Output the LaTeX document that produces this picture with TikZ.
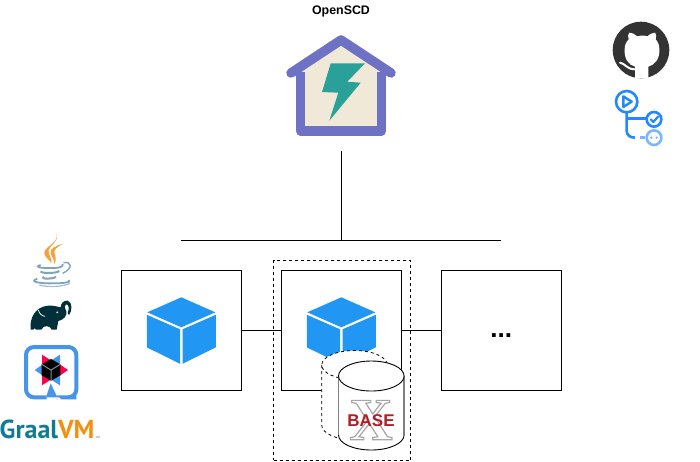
\documentclass[tikz,border=0pt]{standalone}
\usepackage{xcolor}
\usepackage{fontspec}
\setmainfont{Liberation Sans}
\newfontfamily\graalfont{PT Sans}
\newfontfamily\basexfont{Liberation Serif}
\usetikzlibrary{positioning}
\definecolor{housePurple}{HTML}{6E72C4}
\definecolor{houseCream}{HTML}{F0E9D7}
\definecolor{boltTeal}{HTML}{2AA198}
\definecolor{cubeBlue}{HTML}{2196F3}
\definecolor{actBlue}{HTML}{2188FF}
\definecolor{actLight}{HTML}{79B8FF}
\definecolor{javaBlue}{HTML}{7FA3BD}
\definecolor{javaOrange}{HTML}{F5A13C}
\definecolor{gradleDark}{HTML}{02303A}
\definecolor{quarkBlue}{HTML}{4695EB}
\definecolor{quarkRed}{HTML}{FF004A}
\definecolor{graalTeal}{HTML}{0F7C93}
\definecolor{graalOrange}{HTML}{F29111}
\definecolor{basexRed}{HTML}{B01E26}
\tikzset{
	svcbox/.style={draw, line width=1pt, minimum size=120pt, inner sep=0pt, outer sep=0pt, fill=white},
	wire/.style={line width=1pt},
	cube/.pic={
		\fill[cubeBlue] (0,-33) -- (34,-18) -- (0,-3) -- (-34,-18) -- cycle;
		\fill[cubeBlue] (-34.5,-15.5) -- (-1.2,-1) -- (-1.2,33.5) -- (-34.5,17) -- cycle;
		\fill[cubeBlue] (34.5,-15.5) -- (1.2,-1) -- (1.2,33.5) -- (34.5,17) -- cycle;
	}
}
\begin{document}
\begin{tikzpicture}[x=1pt, y=-1pt]
	\useasboundingbox (0,0) rectangle (700,461);
	% services
	\node[svcbox] (svcA) at (181.3,330.3) {};
	\node[svcbox, right=40pt of svcA] (svcB) {};
	\node[svcbox, right=40pt of svcB] (svcC) {};
	\node[font=\bfseries\fontsize{26}{26}\selectfont] (dots) at (501.3,335.5) {...};
	\pic at (svcA.center) {cube};
	\pic at (svcB.center) {cube};
	\draw[wire] (svcA) -- (svcB);
	\draw[wire] (svcB) -- (svcC);
	% bus
	\coordinate[above=30pt of svcA.north] (busL);
	\coordinate[above=30pt of svcC.north] (busR);
	\coordinate (busM) at (341.3,240.3);
	\coordinate (houseFoot) at (341.3,151);
	\draw[wire] (busL) -- (busR);
	\draw[wire] (houseFoot) -- (busM);
	% OpenSCD
	\node[font=\bfseries\fontsize{12.4}{12.4}\selectfont] (title) at (341,11.3) {OpenSCD};
	\fill[houseCream] (300,131) -- (300,72) -- (341,42) -- (382,72) -- (382,131) -- cycle;
	\draw[housePurple, line width=9.5pt, line cap=round, line join=round] (291,73) -- (341,40) -- (391,73);
	\draw[housePurple, line width=9.5pt, line join=round] (300.5,72) -- (300.5,131) -- (381.5,131) -- (381.5,72);
	\fill[boltTeal] (330.7,63.3) -- (365,63.3) -- (347.3,81.7) -- (360.7,82.7) -- (329.3,120.7) -- (338.3,92.7) -- (322,92) -- cycle;
	% database
	\node[draw, dashed, line width=1pt, minimum width=137.3pt, minimum height=200pt, inner sep=0pt, outer sep=0pt] (dbframe) at (342.3,360.3) {};
	\fill[white] (321.7,365) -- (321.7,425) arc[start angle=180, end angle=0, x radius=32.8, y radius=15] -- (387.3,365) arc[start angle=0, end angle=-180, x radius=32.8, y radius=14.5] -- cycle;
	\draw[dashed, line width=0.8pt] (354.5,365) ellipse[x radius=32.8, y radius=14.5];
	\draw[dashed, line width=0.8pt] (321.7,365) -- (321.7,425) arc[start angle=180, end angle=90, x radius=32.8, y radius=15];
	\fill[white] (338.5,376) -- (338.5,435) arc[start angle=180, end angle=0, x radius=32.8, y radius=15] -- (404,376) -- cycle;
	\draw[gray, line width=1.4pt] (338.5,376) -- (338.5,435);
	\draw[gray, line width=1.4pt] (404,376) -- (404,435);
	\draw[line width=0.9pt] (338.5,435) arc[start angle=180, end angle=0, x radius=32.8, y radius=15];
	\draw[line width=0.9pt, fill=white] (371.3,376) ellipse[x radius=32.8, y radius=15];
	\node[inner sep=0pt, font=\basexfont\bfseries\fontsize{60}{60}\selectfont] (basexX) at (371,420) {\special{pdf:code q 1 Tr 0.65 G 1.2 w}X\special{pdf:code Q}};
	\node[inner sep=0pt, text=basexRed, font=\bfseries\fontsize{17}{17}\selectfont] (basex) at (371,420.5) {BASE};
	% github
	\fill[black!80] (641,50) circle[radius=28.3];
	\begin{scope}[shift={(600,10)}, scale=1/3]
		\fill[white] (105,204) -- (105,170) .. controls (85,165) and (72,145) .. (74,118) .. controls (74,105) and (78,97) .. (86,88) .. controls (83,80) and (84,72) .. (88,68) .. controls (95,68) and (105,72) .. (112,79) .. controls (120,76) and (135,76) .. (142,79) .. controls (150,72) and (158,68) .. (165,68) .. controls (169,72) and (170,80) .. (167,88) .. controls (175,97) and (178,105) .. (178,118) .. controls (180,145) and (165,165) .. (145,170) -- (145,204) -- cycle;
		\draw[white, line width=2pt, line cap=round] (60,158) .. controls (75,160) and (80,178) .. (105,178);
	% actions
		\draw[actBlue, line width=2.6pt] (80,275) circle[radius=32];
		\draw[actBlue, line width=2.4pt, line join=round] (70,259) -- (70,291) -- (95,275) -- cycle;
		\draw[actBlue, line width=2.6pt] (80,307) -- (80,362) .. controls (80,375) and (90,383) .. (105,383);
		\draw[actBlue, line width=2.6pt] (80,325) -- (140,325);
		\draw[actBlue, line width=2.6pt] (162,328) circle[radius=22];
		\draw[actBlue, line width=2.2pt, line cap=round, line join=round] (152,328) -- (160,336) -- (174,320);
		\draw[actLight, line width=2.6pt] (120,383) -- (136,383);
		\draw[actLight, line width=2.6pt] (162,383) circle[radius=22];
		\fill[actLight] (154,383) circle[radius=4] (170,383) circle[radius=4];
	\end{scope}
	% java and gradle
	\begin{scope}[shift={(0,225)}, scale=1/3]
		\fill[javaOrange] (170,25) .. controls (178,55) and (130,65) .. (133,85) .. controls (135,98) and (150,105) .. (154,115) .. controls (158,100) and (143,90) .. (146,75) .. controls (150,60) and (178,50) .. (170,25) -- cycle;
		\fill[javaOrange] (188,57) .. controls (165,62) and (148,72) .. (152,85) .. controls (155,98) and (166,105) .. (162,118) .. controls (172,105) and (165,90) .. (163,82) .. controls (162,72) and (175,65) .. (188,57) -- cycle;
		\draw[javaBlue, line width=1.8pt] (122,120) .. controls (105,125) and (110,130) .. (165,129) .. controls (180,128) and (190,125) .. (188,117);
		\draw[javaBlue, line width=1.4pt] (190,113) .. controls (215,108) and (220,130) .. (188,145);
		\draw[javaBlue, line width=2pt] (125,138) .. controls (115,146) and (170,146) .. (178,138);
		\draw[javaBlue, line width=2pt] (128,155) .. controls (122,163) and (160,163) .. (168,155);
		\draw[javaBlue, line width=1.8pt] (112,161) .. controls (85,170) and (120,176) .. (160,175) .. controls (190,175) and (215,172) .. (207,165);
		\draw[javaBlue!70, line width=1.2pt] (118,180) .. controls (140,187) and (190,186) .. (210,175);
		\fill[gradleDark] (92,314) .. controls (88,280) and (105,245) .. (145,242) .. controls (160,241) and (172,245) .. (182,247) .. controls (182,235) and (192,225) .. (203,227) .. controls (218,232) and (217,258) .. (207,270) -- (203,264) .. controls (208,250) and (207,238) .. (198,238) .. controls (193,240) and (193,248) .. (199,258) .. controls (203,272) and (190,285) .. (175,288) -- (170,314) -- (155,314) .. controls (152,302) and (130,298) .. (124,314) -- (108,314) .. controls (106,308) and (102,308) .. (100,314) -- cycle;
		\draw[white, line width=0.8pt] (115,255) .. controls (118,268) and (128,273) .. (135,274);
		\fill[white] (172,262) circle[radius=3];
	\end{scope}
	% quarkus
	\begin{scope}[shift={(0,340)}, scale=1/3]
		\draw[quarkBlue, line width=4pt, rounded corners=8pt] (170,172) -- (205,172) -- (229,172) -- (229,21) -- (78,21) -- (78,172) -- (140,172);
		\fill[quarkBlue] (152,130) -- (138,172) -- (172,172) -- cycle;
		\fill[white] (168,172) -- (178,172) -- (186,182) -- (176,182) -- cycle;
		\fill[quarkRed] (126,44) -- (154,62) -- (126,80) -- cycle;
		\fill[quarkBlue] (180,44) -- (180,80) -- (152,62) -- cycle;
		\fill[quarkBlue] (104,90) -- (130,72) -- (130,108) -- cycle;
		\fill[quarkRed] (204,90) -- (178,72) -- (178,108) -- cycle;
		\fill[quarkRed] (126,136) -- (126,100) -- (154,118) -- cycle;
		\fill[quarkBlue] (180,136) -- (180,100) -- (152,118) -- cycle;
		\fill[black] (153,57) -- (181,73) -- (181,106) -- (153,122) -- (125,106) -- (125,73) -- cycle;
		\draw[black!45, line width=1pt] (125,73) -- (153,90) -- (181,73) (153,90) -- (153,122);
	\end{scope}
	% graalvm
	\node[anchor=base west, inner sep=0pt, font=\graalfont\bfseries\fontsize{26}{26}\selectfont] (graal) at (-0.5,438) {\textcolor{graalTeal}{Graal}\textcolor{graalOrange}{VM}};
	\node[inner sep=0pt, font=\fontsize{3}{3}\selectfont, text=black!60, right=0.5pt of graal.base east, anchor=base west] (graaltm) {TM};
\end{tikzpicture}
\end{document}
